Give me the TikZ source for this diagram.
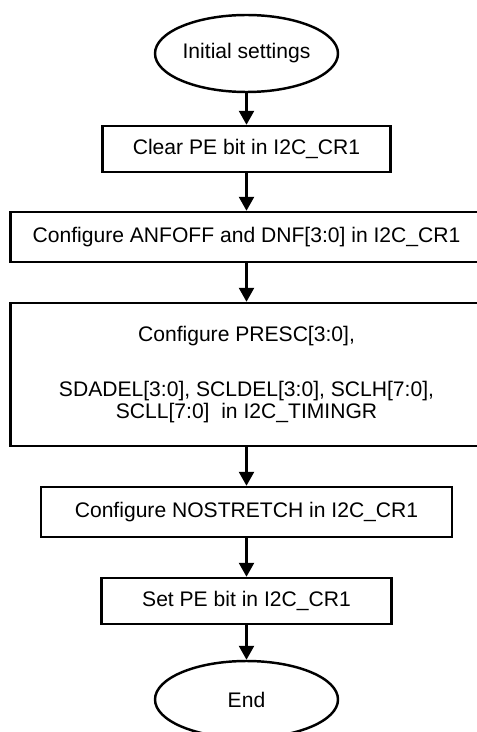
\documentclass[tikz,border=0pt]{standalone}
\usepackage{fontspec}
\setmainfont{Liberation Sans}
\usetikzlibrary{arrows.meta,shapes.geometric}
\begin{document}
\begin{tikzpicture}[-{Triangle[length=2.8mm,width=3mm]},line width=1.4pt]
    \tikzstyle{every node}=[draw,align=center,inner sep=0pt,font=\fontsize{12}{12.5}\selectfont];
    \tikzstyle{term}=[shape=ellipse,minimum width=36.6mm,minimum height=15.4mm];
    \tikzstyle{stepbox}=[shape=rectangle];
    \useasboundingbox (0,0) rectangle (9.54,-14.64);
    \node at (4.93, -1.07)  (s0) [term] {Initial settings};
    \node at (4.93, -2.98)  (s1) [stepbox,minimum width=57.6mm,minimum height=9.2mm] {Clear PE bit in I2C\_CR1};
    \node at (4.93, -4.74)  (s2) [stepbox,minimum width=94.4mm,minimum height=10mm] {Configure ANFOFF and DNF[3:0] in I2C\_CR1};
    \node at (4.93, -7.49)  (s3) [stepbox,minimum width=94.4mm,minimum height=28.6mm] {Configure PRESC[3:0],\\[6.6mm]
        SDADEL[3:0], SCLDEL[3:0], SCLH[7:0],\\ SCLL[7:0]~ in I2C\_TIMINGR};
    \node at (4.93, -10.24) (s4) [stepbox,minimum width=82.2mm,minimum height=10mm] {Configure NOSTRETCH in I2C\_CR1};
    \node at (4.93, -12.02) (s5) [stepbox,minimum width=58mm,minimum height=9.2mm] {Set PE bit in I2C\_CR1};
    \node at (4.93, -13.99) (s6) [term] {End};

    \draw (s0) to (s1);
    \draw (s1) to (s2);
    \draw (s2) to (s3);
    \draw (s3) to (s4);
    \draw (s4) to (s5);
    \draw (s5) to (s6);
\end{tikzpicture}
\end{document}
